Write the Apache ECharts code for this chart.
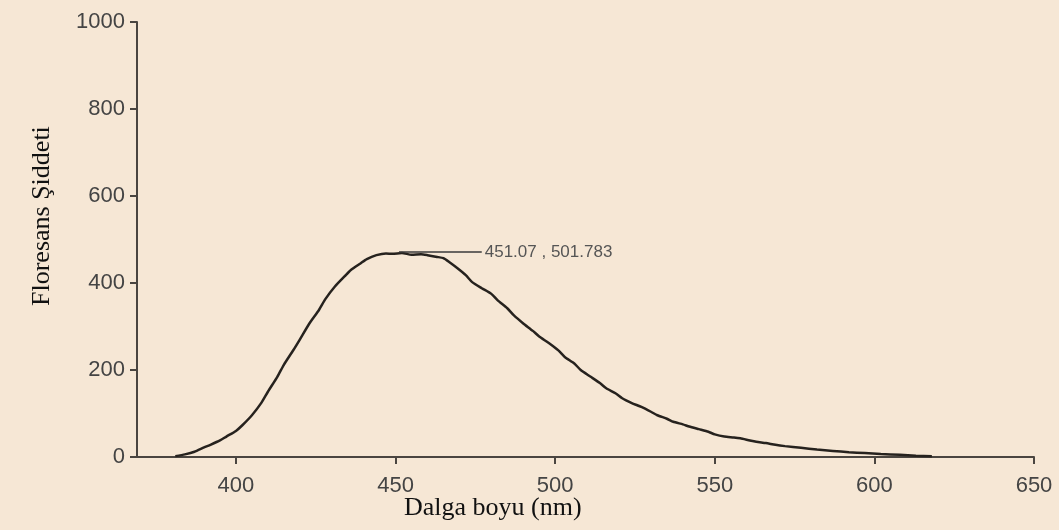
<!DOCTYPE html>
<html>
<head>
<meta charset="utf-8">
<script src="https://cdn.jsdelivr.net/npm/echarts@6/dist/echarts.min.js"></script>
<style>
html,body{margin:0;padding:0;background:#f6e7d5;}
#chart{width:1059px;height:530px;}
</style>
</head>
<body>
<div id="chart"></div>
<script>
var wavelengths = [381,384,387,390,392,395,397,400,402,405,408,410,413,415,418,420,423,426,428,431,434,436,439,441,444,447,449,452,455,458,460,463,465,467,469,472,474,477,480,482,485,487,490,493,495,498,501,503,506,508,511,514,516,519,521,524,527,530,532,535,537,540,542,545,548,550,553,556,558,561,563,566,569,572,577,582,587,592,597,602,608,613,618];
var intensities = [2,6,12,22,28,38,47,60,73,96,125,150,185,212,246,270,307,338,363,392,415,430,445,455,464,468,467,469,465,466,464,460,457,447,436,418,402,388,375,360,342,326,307,290,277,262,245,230,215,200,185,170,158,146,135,124,115,104,96,88,81,75,70,64,58,52,47,45,43,38,35,32,28,25,21,17,14,11,9,7,5,3,2];
var xTicks = [400,450,500,550,600,650];
var yTicks = [0,200,400,600,800,1000];
var peakLabel = '451.07 , 501.783';
var peakX = 451.07;
var peakLineEndX = 477;
var peakLineY = 471;
var xTitle = 'Dalga boyu (nm)';
var yTitle = 'Floresans Şiddeti';

var seriesData = wavelengths.map(function(w,i){return [w,intensities[i]];});
var chart = echarts.init(document.getElementById('chart'));
var axisColor = '#4a4540';
var labelFont = 'Liberation Sans, Arial, sans-serif';
chart.setOption({
  backgroundColor:'#f6e7d5',
  animation:false,
  grid:{left:137,top:22,right:25,bottom:73,containLabel:false},
  xAxis:{
    type:'value',min:369,max:650,
    axisLine:{show:true,onZero:false,lineStyle:{color:axisColor,width:2}},
    axisTick:{show:true,length:7,customValues:xTicks,lineStyle:{color:axisColor,width:2}},
    axisLabel:{customValues:xTicks,margin:18,color:'#444',fontSize:22,fontFamily:labelFont},
    splitLine:{show:false}
  },
  yAxis:{
    type:'value',min:0,max:1000,interval:200,
    axisLine:{show:true,lineStyle:{color:axisColor,width:2}},
    axisTick:{show:true,length:7,customValues:yTicks,lineStyle:{color:axisColor,width:2}},
    axisLabel:{customValues:yTicks,margin:12,color:'#444',fontSize:22,fontFamily:labelFont,formatter:function(v){return String(v);}},
    splitLine:{show:false}
  },
  graphic:[
    {type:'text',left:404,top:495,style:{text:xTitle,fill:'#111',font:'26px "Liberation Serif", "Times New Roman", serif'}},
    {type:'text',x:29,y:306,rotation:Math.PI/2,style:{text:yTitle,fill:'#111',font:'26px "Liberation Serif", "Times New Roman", serif',textVerticalAlign:'top'}}
  ],
  series:[{
    type:'line',data:seriesData,showSymbol:false,smooth:0.2,
    lineStyle:{color:'#26221e',width:2.5},
    markLine:{
      silent:true,symbol:['none','none'],
      lineStyle:{color:'#3a3a3a',width:1.5,type:'solid'},
      label:{show:true,position:'end',formatter:peakLabel,color:'#555',fontSize:17,fontFamily:labelFont,distance:3},
      data:[[{coord:[peakX,peakLineY]},{coord:[peakLineEndX,peakLineY]}]]
    }
  }]
});
</script>
</body>
</html>
